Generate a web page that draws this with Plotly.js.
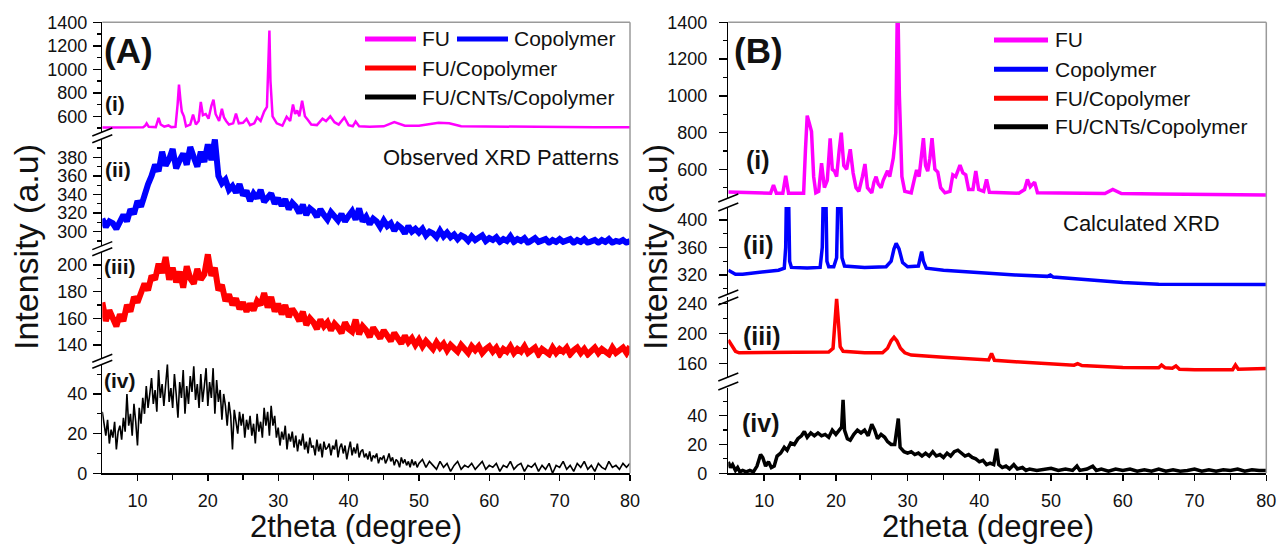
<!DOCTYPE html>
<html><head><meta charset="utf-8">
<script src="https://cdn.plot.ly/plotly-3.0.1.min.js"></script>
<style>html,body{margin:0;padding:0;background:#fff}#chart{width:1278px;height:544px}</style>
</head><body><div id="chart"></div>
<script>
// ---------------- DATA ----------------
// Panel A: observed XRD. Noisy scans are read every 0.5 degree (5..80);
// the FU/CNTs/Copolymer scan every 0.25 degree up to 50 then every 0.5 degree.
const gridA = []; for (let i = 0; i <= 150; i++) gridA.push(5 + i * 0.5);
const gridBlk = []; for (let i = 0; i <= 180; i++) gridBlk.push(5 + i * 0.25);
for (let i = 1; i <= 60; i++) gridBlk.push(50 + i * 0.5);

// (i) FU observed (x, y pairs)
const fuObsX = [5, 8, 10.8, 11.1, 11.3, 11.6, 12.6, 13.0, 13.3, 13.8, 14.4, 14.8, 15.4, 15.7, 15.9, 16.1, 16.3, 16.6, 16.9, 17.5, 17.9, 18.3, 18.7, 19.0, 19.3, 19.7, 20.1, 20.5, 20.8, 21.1, 21.6, 22.0, 22.3, 22.6, 23.0, 23.6, 24.0, 24.4, 25.0, 25.5, 26.0, 26.6, 27.0, 27.5, 28.0, 28.4, 28.6, 28.75, 28.9, 29.2, 29.8, 30.6, 31.2, 31.7, 32.1, 32.4, 32.7, 33.0, 33.4, 33.8, 34.2, 34.7, 35.5, 36.3, 36.8, 37.4, 38.0, 38.6, 39.4, 40.0, 40.6, 41.0, 41.5, 43, 45, 46.5, 48, 50, 52.8, 54.3, 56, 60, 65, 70, 75, 80];
const fuObsY = [505, 507, 506, 520, 540, 510, 508, 586, 530, 512, 522, 508, 510, 700, 870, 742, 640, 600, 515, 530, 614, 530, 560, 722, 610, 620, 580, 690, 742, 620, 560, 663, 590, 560, 530, 540, 623, 540, 545, 578, 525, 540, 590, 560, 640, 680, 1000, 1330, 900, 600, 540, 520, 596, 560, 700, 620, 650, 600, 733, 600, 570, 530, 525, 580, 560, 600, 550, 530, 590, 525, 515, 555, 515, 512, 515, 550, 520, 520, 545, 540, 515, 512, 510, 508, 507, 506];

// (ii) Copolymer observed (on gridA)
const copObs = [
  314,305,311,309,303,312,318,311,324,319,333,
  327,342,351,360,372,365,386,371,378,389,
  368,377,384,372,391,380,370,386,375,394,
  377,399,360,352,356,345,349,342,351,339,
  344,333,341,336,345,332,338,341,330,336,
  328,335,324,331,327,320,329,318,325,322,
  316,324,318,313,321,315,312,319,311,317,
  322,313,325,311,316,308,314,311,305,312,
  306,309,301,307,304,298,306,300,303,299,
  303,296,300,298,294,301,295,299,294,297,
  292,296,294,290,295,291,293,296,290,293,
  291,294,289,292,290,295,289,292,290,293,
  288,291,293,289,290,292,288,291,289,292,
  289,290,292,288,291,289,292,288,290,291,
  288,291,289,292,288,290,289,291,288,290];

// (iii) FU/Copolymer observed (on gridA)
const fuCopObs = [
  172,158,166,161,154,163,158,170,165,176,172,
  179,186,181,192,189,201,194,206,189,198,
  187,195,183,199,190,186,197,189,193,208,
  192,198,181,185,173,178,170,175,167,172,
  165,171,166,173,170,179,168,176,165,171,
  163,170,161,167,163,158,165,155,160,157,
  152,159,154,157,151,156,153,149,157,152,
  150,159,148,154,151,146,153,148,145,151,
  147,143,149,144,141,147,142,145,140,144,
  139,143,140,137,142,138,141,136,140,138,
  135,140,137,134,139,136,139,134,137,139,
  135,138,133,137,135,139,134,137,135,139,
  134,136,138,133,137,135,133,138,134,137,
  135,138,133,136,138,134,137,133,136,138,
  134,137,135,133,138,134,136,138,134,139];

// (iv) FU/CNTs/Copolymer observed (on gridBlk)
const fuCntObs = [
  31,24,19,27, 15,22,18,26, 12,21,24,17, 28,21,40,24, 30,19,35,26,
  14,33,25,38, 30,44,33,40, 48,35,42,31, 52,38,45,34, 47,55,36,43,
  33,50,40,28, 46,38,52,30, 44,35,49,41, 54,37,45,33, 50,36,44,53,
  34,46,38,53, 30,47,36,42, 27,40,34,24, 36,29,12,32, 26,20,31,24,
  30,18,27,22, 29,19,25,15, 30,21,26,18, 33,24,31,19, 34,24,29,18,
  23,14,21,17, 24,12,20,16, 21,13,19,11, 17,14,20,12, 16,10,18,13,
  14,9,17,11, 15,8,16,12, 13,15,9,14, 12,17,8,13, 15,10,14,7,
  12,16,9,13, 10,15,8,11, 12,8,10,7, 11,6,9,8, 10,5,8,7,
  9,5,7,10, 6,8,4,7, 6,3,8,5, 7,4,6,3, 7,4,6,3,
  5,
  7,3,6,4,2,6,3,5,1,4, 6,2,4,3,5,2,4,6,2,4,
  3,5,1,4,3,6,2,4,5,1, 4,3,5,1,4,2,5,0,4,3,
  6,2,4,1,5,3,6,2,4,1, 5,3,2,6,3,4,2,5,3,5];

// Panel B: calculated XRD (x, y pairs)
const fuCalX = [5, 8, 10, 10.9, 11.3, 11.7, 12.6, 13.0, 13.4, 15.5, 15.75, 16.0, 16.3, 16.6, 16.9, 17.2, 17.6, 18.0, 18.4, 18.8, 19.2, 19.5, 19.8, 20.1, 20.45, 20.75, 21.1, 21.5, 22.0, 22.4, 22.8, 23.2, 23.7, 24.05, 24.4, 25.0, 25.3, 25.6, 25.9, 26.3, 26.6, 27.0, 27.2, 27.5, 28.0, 28.35, 28.6, 28.85, 29.2, 29.6, 30.5, 30.9, 31.25, 31.6, 31.9, 32.2, 32.5, 32.8, 33.1, 33.4, 33.8, 34.2, 34.6, 35.2, 35.9, 36.3, 36.7, 37.1, 37.3, 37.7, 38.1, 38.5, 39.1, 39.5, 39.9, 40.6, 41.0, 41.4, 45.5, 46.3, 46.7, 47.1, 47.7, 48.1, 57.5, 58.6, 59.8, 65, 70, 80];
const fuCalY = [476, 472, 470, 470, 514, 470, 470, 565, 470, 470, 700, 892, 850, 805, 560, 472, 480, 633, 500, 540, 769, 600, 590, 560, 700, 799, 620, 600, 709, 580, 500, 480, 560, 629, 500, 472, 530, 560, 520, 500, 540, 580, 592, 560, 661, 800, 1600, 1000, 560, 480, 472, 540, 596, 560, 680, 769, 620, 590, 660, 769, 600, 585, 500, 472, 480, 570, 560, 610, 623, 580, 570, 490, 490, 590, 490, 480, 545, 475, 470, 490, 545, 505, 530, 472, 468, 490, 468, 465, 463, 460];

const copCalX = [5, 5.5, 6, 7, 8, 10, 12, 12.8, 13.0, 13.15, 13.35, 13.55, 13.8, 16, 17.8, 18.1, 18.3, 18.55, 18.75, 19.0, 19.7, 20.1, 20.35, 20.6, 20.85, 21.2, 24, 27, 27.7, 28.1, 28.4, 28.8, 29.3, 30, 31.5, 31.75, 31.95, 32.2, 32.6, 35, 40, 45, 49.5, 49.9, 50.3, 55, 60, 65, 70, 80];
const copCalY = [327, 324, 321, 321, 322, 324, 327, 330, 360, 470, 470, 340, 331, 330, 331, 360, 470, 470, 340, 332, 332, 345, 470, 470, 345, 333, 331, 332, 340, 358, 366, 358, 338, 332, 333, 345, 354, 340, 330, 327, 323, 320, 318, 320, 317, 313, 309, 306.5, 306, 306];

const fuCopCalX = [5, 5.5, 6, 6.5, 10, 15, 19.0, 19.6, 19.9, 20.1, 20.3, 20.6, 21.0, 24, 26.5, 27.2, 27.7, 28.1, 28.5, 29.0, 29.6, 30.5, 35, 40, 41.3, 41.7, 42.1, 45, 50, 53.2, 53.7, 54.3, 60, 65.0, 65.4, 65.9, 66.9, 67.4, 67.9, 70, 75.3, 75.7, 76.1, 80];
const fuCopCalY = [191, 184, 176, 174, 174, 174, 175, 180, 220, 246, 222, 182, 176, 174, 174, 180, 190, 194.7, 190, 180, 174, 171, 168, 165, 164.5, 173, 164, 162, 159, 157.5, 159.5, 157, 154.5, 154, 157.7, 154, 153.5, 156.4, 152, 151.5, 151.5, 157.7, 152, 153];

const fuCntCalX = [5, 5.3, 5.6, 6.0, 6.3, 6.6, 7.0, 7.5, 8.0, 8.5, 9.0, 9.5, 9.8, 10.2, 10.6, 11.0, 11.4, 11.8, 12.3, 12.8, 13.2, 13.7, 14.2, 14.7, 15.2, 15.6, 16.0, 16.5, 17.0, 17.5, 18.0, 18.5, 19.0, 19.5, 20.0, 20.5, 20.8, 21.0, 21.2, 21.6, 22.0, 22.5, 23.0, 23.5, 24.0, 24.5, 25.0, 25.4, 25.8, 26.3, 26.8, 27.2, 27.7, 28.2, 28.7, 28.95, 29.5, 30.0, 30.5, 31.0, 31.5, 32.0, 32.5, 33.0, 33.5, 34.0, 34.5, 35.0, 35.5, 36.0, 36.5, 37.0, 37.5, 38.0, 38.5, 39.0, 39.5, 40.0, 40.5, 41.0, 41.5, 42.0, 42.4, 42.7, 43.2, 43.7, 44.2, 44.8, 45.3, 46, 46.5, 47, 48, 49, 50, 51, 52, 53, 53.6, 54, 55, 55.8, 56.3, 57, 58, 59, 60, 61, 62, 63, 64, 65, 66, 67, 68, 69, 70, 71, 72, 73, 74, 75, 76, 77, 78, 79, 80];
const fuCntCalY = [8, 4, 6, 2, 4, 1, 2, 1, 2, 1, 5, 13, 11, 5, 8, 4, 5, 12, 14, 18, 16, 21, 20, 24, 26, 29, 25, 28, 26, 28, 26, 27, 25, 30, 27, 30, 32, 51, 30, 24, 23, 27, 30, 28, 30, 26, 34, 30, 24, 27, 25, 22, 20, 20, 38, 18, 15, 14, 15, 13, 14, 12, 14, 12, 15, 12, 13, 11, 14, 12, 15, 16, 14, 12, 13, 11, 10, 8, 9, 6, 7, 6, 17, 6, 4, 5, 3, 6, 3, 4, 2, 3, 2, 3, 3.5, 2, 3, 2, 5, 2, 3, 5, 2, 3, 1.5, 3, 2, 3, 1.5, 2.5, 1.5, 3, 1.5, 2.5, 1.5, 2, 3, 1.5, 2.5, 1.5, 2.5, 2, 3, 1.5, 2.5, 2, 2];

// Labels
const seriesNames = ['FU', 'Copolymer', 'FU/Copolymer', 'FU/CNTs/Copolymer'];
const seriesColors = ['#ff00ff', '#0000ff', '#ff0000', '#000000'];
const romanLabels = ['(i)', '(ii)', '(iii)', '(iv)'];
const xTicks = [10, 20, 30, 40, 50, 60, 70, 80];
const xMinor = [15, 25, 35, 45, 55, 65, 75];

// ---------------- LAYOUT HELPERS ----------------
const W = 1278, H = 544;
const FONT = 'Liberation Sans, Arial, Helvetica, sans-serif';
const px = x => x / W, py = y => 1 - y / H;

const AX = {l: 102.3, r: 630};
const BX = {l: 728.3, r: 1266.3};
const BOT = 473.3, TOP = 22.3;

function yax(top, bot, range, tickvals, minorvals, anchor, standoff) {
  return {
    domain: [py(bot), py(top)], range: range, anchor: anchor,
    showline: true, linecolor: '#000', linewidth: 1.5,
    ticks: 'outside', ticklen: 8, tickwidth: 1.4, tickcolor: '#000',
    tickmode: 'array', tickvals: tickvals,
    ticklabelstandoff: standoff,
    minor: {tickmode: 'array', tickvals: minorvals, ticks: 'outside', ticklen: 4, tickwidth: 1.2, tickcolor: '#000'},
    showgrid: false, zeroline: false, automargin: false, fixedrange: true,
    tickfont: {family: FONT, size: 18, color: '#111'}
  };
}
function xax(dom, anchor) {
  return {
    domain: dom, range: [5, 80], anchor: anchor,
    showline: true, linecolor: '#000', linewidth: 1.5,
    ticks: 'outside', ticklen: 6, tickwidth: 1.4, tickcolor: '#000',
    tickmode: 'array', tickvals: xTicks, ticklabelstandoff: 5,
    minor: {tickmode: 'array', tickvals: xMinor, ticks: 'outside', ticklen: 5, tickwidth: 1.2, tickcolor: '#000'},
    showgrid: false, zeroline: false, automargin: false, fixedrange: true,
    tickfont: {family: FONT, size: 18, color: '#111'}
  };
}

const traces = [
  {x: fuObsX, y: fuObsY, xaxis: 'x', yaxis: 'y', line: {color: seriesColors[0], width: 2.5}},
  {x: gridA, y: copObs, xaxis: 'x', yaxis: 'y2', line: {color: seriesColors[1], width: 6}},
  {x: gridA, y: fuCopObs, xaxis: 'x', yaxis: 'y3', line: {color: seriesColors[2], width: 6}},
  {x: gridBlk, y: fuCntObs, xaxis: 'x', yaxis: 'y4', line: {color: seriesColors[3], width: 1.6}},
  {x: fuCalX, y: fuCalY, xaxis: 'x2', yaxis: 'y5', line: {color: seriesColors[0], width: 3.5}},
  {x: copCalX, y: copCalY, xaxis: 'x2', yaxis: 'y6', line: {color: seriesColors[1], width: 3.5}},
  {x: fuCopCalX, y: fuCopCalY, xaxis: 'x2', yaxis: 'y7', line: {color: seriesColors[2], width: 3.5}},
  {x: fuCntCalX, y: fuCntCalY, xaxis: 'x2', yaxis: 'y8', line: {color: seriesColors[3], width: 3.5}}
].map((t, i) => Object.assign({type: 'scatter', mode: 'lines', name: seriesNames[i % 4], hoverinfo: 'skip'}, t));

const shapes = [];
const line = (x0, y0, x1, y1, color, width) => shapes.push({type: 'line', xref: 'paper', yref: 'paper',
  x0: px(x0), y0: py(y0), x1: px(x1), y1: py(y1), line: {color: color, width: width}});
// grey frame top/right
[AX, BX].forEach(P => { line(P.l, TOP, P.r, TOP, '#9a9a9a', 1.5); line(P.r, TOP, P.r, BOT, '#9a9a9a', 1.5); });
// axis break marks
[[AX.l, [132, 138.7, 245.6, 251.7, 358.3, 364.2]], [BX.l, [198, 207, 294, 301, 377, 386]]].forEach(([x, ys]) => {
  ys.forEach(y => line(x - 10, y + 4, x + 10, y - 4, '#000', 1.5));
});

const annotations = [];
const text = (t, x, y, size, opts) => annotations.push(Object.assign({xref: 'paper', yref: 'paper', x: px(x), y: py(y),
  text: t, showarrow: false, xanchor: 'center', yanchor: 'middle', font: {family: FONT, size: size, color: '#111'}}, opts || {}));

// Legends (drawn as samples + text)
const legA = [[365, 416, 420, 39], [457, 508, 512, 39], [365, 416, 420, 68], [365, 416, 420, 97]];
legA.forEach((L, i) => { line(L[0], L[3], L[1], L[3], seriesColors[i], 5); text(seriesNames[i], L[2], L[3], 21, {xanchor: 'left'}); });
const legB = [40, 69.3, 98.3, 126.7];
legB.forEach((y, i) => { line(994, y, 1048, y, seriesColors[i], 5); text(seriesNames[i], 1053, y, 21, {xanchor: 'left'}); });

// panel letters, notes, roman labels
text('<b>(A)</b>', 128, 50, 35);
text('<b>(B)</b>', 758, 50, 35);
text('Observed XRD Patterns', 501, 157, 22);
text('Calculated XRD', 1141, 223, 22);
[[115, 103], [118, 169], [120, 266], [120, 380]].forEach((p, i) => text('<b>' + romanLabels[i] + '</b>', p[0], p[1], 21));
[[758, 160], [758, 245], [762, 336], [761, 423]].forEach((p, i) => text('<b>' + romanLabels[i] + '</b>', p[0], p[1], 25));
// axis titles
text('Intensity (a.u)', 26, 247, 34, {textangle: -90});
text('Intensity (a.u)', 655, 247, 34, {textangle: -90});
text('2theta (degree)', 356, 526, 31);
text('2theta (degree)', 988, 526, 31);

const layout = {
  width: W, height: H, margin: {l: 0, r: 0, t: 0, b: 0},
  paper_bgcolor: '#fff', plot_bgcolor: 'rgba(0,0,0,0)', showlegend: false,
  font: {family: FONT},
  xaxis: xax([px(AX.l), px(AX.r)], 'y4'),
  xaxis2: xax([px(BX.l), px(BX.r)], 'y8'),
  yaxis: yax(TOP, 132, [466.4, 1400], [600, 800, 1000, 1200, 1400], [500, 700, 900, 1100, 1300], 'x', 2),
  yaxis2: yax(138.7, 245.6, [285, 400], [300, 320, 340, 360, 380], [290, 310, 330, 350, 370, 390], 'x', 2),
  yaxis3: yax(251.7, 358.3, [130, 210], [140, 160, 180, 200], [150, 170, 190], 'x', 2),
  yaxis4: yax(364.2, BOT, [0, 55], [0, 20, 40], [10, 30, 50], 'x', 2),
  yaxis5: yax(TOP, 198, [443.8, 1400], [600, 800, 1000, 1200, 1400], [500, 700, 900, 1100, 1300], 'x2', 8),
  yaxis6: yax(207, 295, [290.9, 418.9], [320, 360, 400], [300, 340, 380], 'x2', 8),
  yaxis7: yax(297, 377, [141.7, 248.4], [160, 200, 240], [180, 220], 'x2', 8),
  yaxis8: yax(388, BOT, [0, 59.2], [0, 20, 40], [10, 30, 50], 'x2', 8),
  shapes: shapes, annotations: annotations
};

Plotly.newPlot('chart', traces, layout, {displayModeBar: false, staticPlot: true});
</script>
</body></html>
